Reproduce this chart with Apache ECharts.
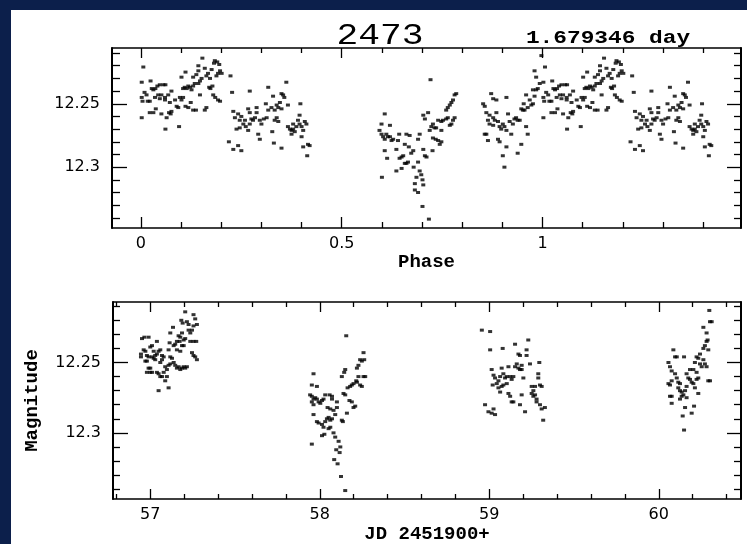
<!DOCTYPE html>
<html>
<head>
<meta charset="utf-8">
<script src="https://cdn.jsdelivr.net/npm/echarts@6/dist/echarts.min.js"></script>
<style>
html,body{margin:0;padding:0;background:#0c1f4b;width:747px;height:544px;overflow:hidden}
#main{position:absolute;left:11px;top:10px;width:736px;height:534px;background:#fff}
</style>
</head>
<body>
<div id="main"></div>
<script>
// tick values
var PHASE_LABELS = [0, 0.5, 1];
var PHASE_MINOR = [0.1,0.2,0.3,0.4,0.6,0.7,0.8,0.9,1.1,1.2,1.3,1.4];
var JD_LABELS = [57, 58, 59, 60];
var JD_MINOR = [56.8,57.2,57.4,57.6,57.8,58.2,58.4,58.6,58.8,59.2,59.4,59.6,59.8,60.2,60.4];
var MAG_LABELS = [12.25, 12.3];
var MAG_MINOR = [12.21,12.22,12.23,12.24,12.26,12.27,12.28,12.29,12.31,12.32,12.33,12.34];

// folded light curve, phase in [0,1)
var foldBright = [[0.006,12.221],[0.002,12.233],[0.024,12.232],[0.002,12.245],[0.009,12.241],[0.014,12.243],[0.004,12.248],[0.017,12.248],[0.022,12.248],[0.027,12.238],[0.031,12.239],[0.036,12.238],[0.041,12.236],[0.047,12.235],[0.056,12.235],[0.061,12.235],[0.035,12.245],[0.043,12.243],[0.051,12.243],[0.060,12.245],[0.068,12.243],[0.076,12.240],[0.047,12.246],[0.060,12.247],[0.072,12.249],[0.085,12.247],[0.002,12.261],[0.022,12.257],[0.031,12.257],[0.037,12.254],[0.051,12.258],[0.064,12.261],[0.070,12.257],[0.076,12.256],[0.061,12.270],[0.095,12.268],[0.089,12.252],[0.093,12.253],[0.097,12.245],[0.101,12.247],[0.105,12.245],[0.111,12.252],[0.118,12.253],[0.124,12.249],[0.130,12.255],[0.137,12.255],[0.105,12.238],[0.109,12.237],[0.114,12.238],[0.118,12.236],[0.122,12.237],[0.126,12.239],[0.130,12.236],[0.134,12.234],[0.101,12.229],[0.111,12.225],[0.130,12.229],[0.138,12.227],[0.143,12.224],[0.147,12.232],[0.151,12.230],[0.143,12.220],[0.153,12.214],[0.159,12.222],[0.163,12.228],[0.167,12.226],[0.172,12.230],[0.176,12.223],[0.182,12.218],[0.184,12.216],[0.190,12.217],[0.195,12.219],[0.197,12.224],[0.201,12.226],[0.192,12.226],[0.188,12.228],[0.178,12.236],[0.170,12.237],[0.173,12.238],[0.180,12.243],[0.185,12.245],[0.192,12.247],[0.197,12.248],[0.163,12.253],[0.159,12.255],[0.147,12.243],[0.143,12.234],[0.074,12.258]];
var foldShoulder = [[0.223,12.228],[0.227,12.241],[0.271,12.240],[0.317,12.237],[0.230,12.256],[0.234,12.261],[0.242,12.258],[0.246,12.263],[0.250,12.260],[0.255,12.266],[0.261,12.268],[0.267,12.271],[0.271,12.266],[0.279,12.263],[0.284,12.261],[0.288,12.257],[0.267,12.254],[0.271,12.257],[0.288,12.253],[0.296,12.263],[0.300,12.266],[0.306,12.262],[0.313,12.261],[0.311,12.250],[0.317,12.255],[0.292,12.274],[0.296,12.278],[0.219,12.280],[0.230,12.286],[0.242,12.283],[0.250,12.287],[0.246,12.269],[0.238,12.270],[0.259,12.263],[0.275,12.262],[0.329,12.244],[0.325,12.253],[0.333,12.255],[0.338,12.251],[0.342,12.253],[0.350,12.242],[0.354,12.243],[0.357,12.245],[0.362,12.233],[0.346,12.249],[0.350,12.254],[0.338,12.261],[0.333,12.263],[0.342,12.264],[0.327,12.272],[0.331,12.281],[0.350,12.285],[0.366,12.251],[0.366,12.268],[0.371,12.270],[0.375,12.271],[0.379,12.270],[0.383,12.272],[0.379,12.266],[0.387,12.268],[0.391,12.263],[0.395,12.266],[0.400,12.268],[0.404,12.271],[0.395,12.259],[0.397,12.250],[0.400,12.276],[0.408,12.264],[0.412,12.266],[0.416,12.282],[0.420,12.283],[0.414,12.291],[0.404,12.284],[0.375,12.274]];
var foldMinimum = [[0.600,12.308],[0.607,12.258],[0.599,12.266],[0.594,12.271],[0.599,12.274],[0.603,12.276],[0.607,12.278],[0.611,12.274],[0.615,12.276],[0.620,12.267],[0.607,12.287],[0.620,12.276],[0.624,12.279],[0.628,12.278],[0.613,12.293],[0.636,12.286],[0.640,12.279],[0.643,12.274],[0.644,12.293],[0.649,12.292],[0.653,12.291],[0.636,12.303],[0.649,12.301],[0.657,12.297],[0.661,12.297],[0.665,12.296],[0.657,12.282],[0.661,12.274],[0.669,12.275],[0.667,12.284],[0.673,12.289],[0.678,12.287],[0.679,12.300],[0.682,12.313],[0.686,12.308],[0.690,12.296],[0.690,12.320],[0.682,12.318],[0.694,12.303],[0.698,12.306],[0.701,12.310],[0.703,12.314],[0.701,12.331],[0.717,12.341],[0.721,12.231],[0.690,12.278],[0.694,12.274],[0.703,12.286],[0.707,12.291],[0.711,12.292],[0.707,12.262],[0.703,12.259],[0.715,12.257],[0.719,12.271],[0.723,12.268],[0.727,12.266],[0.731,12.269],[0.726,12.287],[0.727,12.277],[0.734,12.278],[0.740,12.279],[0.744,12.282],[0.748,12.280],[0.748,12.264],[0.752,12.263],[0.760,12.262],[0.764,12.261],[0.769,12.267],[0.773,12.266],[0.777,12.263],[0.781,12.261],[0.760,12.255],[0.764,12.253],[0.769,12.251],[0.773,12.249],[0.777,12.247],[0.781,12.243],[0.785,12.242],[0.748,12.271],[0.740,12.263],[0.735,12.269]];
var foldRise = [[0.852,12.250],[0.856,12.252],[0.872,12.242],[0.877,12.246],[0.885,12.247],[0.910,12.245],[0.860,12.257],[0.868,12.259],[0.877,12.261],[0.881,12.263],[0.885,12.257],[0.864,12.263],[0.868,12.266],[0.877,12.267],[0.889,12.264],[0.893,12.268],[0.897,12.270],[0.901,12.266],[0.905,12.268],[0.910,12.271],[0.914,12.258],[0.918,12.264],[0.922,12.274],[0.926,12.266],[0.930,12.262],[0.934,12.261],[0.938,12.263],[0.943,12.263],[0.947,12.254],[0.951,12.255],[0.953,12.250],[0.959,12.243],[0.963,12.253],[0.968,12.247],[0.972,12.251],[0.976,12.250],[0.980,12.244],[0.984,12.239],[0.988,12.238],[0.976,12.239],[0.980,12.224],[0.984,12.229],[0.993,12.234],[0.997,12.212],[0.860,12.274],[0.864,12.279],[0.889,12.278],[0.893,12.280],[0.910,12.284],[0.901,12.291],[0.905,12.300],[0.938,12.289],[0.947,12.282],[0.959,12.268],[0.963,12.274],[0.955,12.255],[0.856,12.274]];

// JD 2451900+ , magnitude, one array per night
var night57 = [[56.951,12.233],[56.965,12.232],[56.990,12.232],[56.945,12.244],[56.945,12.246],[56.961,12.241],[56.971,12.242],[56.980,12.245],[56.990,12.246],[56.971,12.249],[56.980,12.249],[57.000,12.239],[57.010,12.238],[57.020,12.242],[57.029,12.245],[57.039,12.235],[57.010,12.246],[57.020,12.247],[57.029,12.248],[57.039,12.244],[57.049,12.242],[57.059,12.241],[57.069,12.245],[57.069,12.248],[57.079,12.246],[57.059,12.250],[56.990,12.254],[57.000,12.254],[57.010,12.257],[56.980,12.257],[57.039,12.257],[57.049,12.258],[57.059,12.260],[57.069,12.260],[57.079,12.257],[57.098,12.255],[57.088,12.253],[57.108,12.252],[57.118,12.251],[57.118,12.246],[57.128,12.247],[57.138,12.250],[57.147,12.252],[57.157,12.254],[57.167,12.253],[57.177,12.255],[57.187,12.254],[57.197,12.253],[57.206,12.254],[57.216,12.253],[57.108,12.241],[57.114,12.236],[57.118,12.229],[57.134,12.225],[57.138,12.238],[57.147,12.237],[57.157,12.235],[57.167,12.231],[57.177,12.232],[57.187,12.229],[57.197,12.234],[57.173,12.235],[57.187,12.238],[57.197,12.238],[57.157,12.241],[57.177,12.242],[57.183,12.220],[57.191,12.222],[57.206,12.214],[57.216,12.221],[57.226,12.223],[57.226,12.227],[57.236,12.229],[57.246,12.227],[57.255,12.216],[57.265,12.219],[57.275,12.223],[57.255,12.224],[57.236,12.235],[57.255,12.235],[57.271,12.235],[57.246,12.243],[57.255,12.245],[57.265,12.246],[57.275,12.248],[57.206,12.233],[57.049,12.270],[57.108,12.268],[57.000,12.257],[57.088,12.263],[57.098,12.260]];
var night58 = [[57.953,12.308],[57.963,12.258],[57.953,12.266],[57.983,12.267],[57.943,12.273],[57.953,12.274],[57.963,12.276],[57.973,12.275],[57.983,12.276],[57.993,12.278],[57.953,12.278],[57.963,12.280],[58.003,12.279],[58.013,12.277],[58.022,12.276],[57.963,12.287],[57.983,12.292],[57.993,12.293],[58.013,12.294],[58.022,12.296],[58.032,12.292],[58.042,12.290],[58.052,12.289],[58.062,12.291],[58.072,12.290],[58.013,12.302],[58.027,12.301],[58.052,12.297],[58.062,12.296],[58.058,12.273],[58.072,12.274],[58.046,12.282],[58.062,12.283],[58.081,12.284],[58.091,12.287],[58.101,12.282],[58.101,12.278],[58.081,12.300],[58.091,12.303],[58.111,12.306],[58.121,12.310],[58.117,12.314],[58.097,12.312],[58.085,12.319],[58.105,12.322],[58.125,12.331],[58.150,12.341],[58.156,12.231],[58.130,12.260],[58.144,12.257],[58.150,12.255],[58.140,12.272],[58.150,12.273],[58.164,12.268],[58.160,12.286],[58.130,12.291],[58.136,12.292],[58.175,12.277],[58.189,12.278],[58.199,12.282],[58.209,12.281],[58.179,12.267],[58.189,12.266],[58.199,12.265],[58.215,12.263],[58.219,12.264],[58.228,12.260],[58.238,12.266],[58.248,12.267],[58.258,12.260],[58.268,12.260],[58.219,12.254],[58.228,12.252],[58.238,12.248],[58.248,12.249],[58.258,12.243],[58.262,12.248],[58.072,12.276],[58.032,12.273]];
var night59 = [[58.956,12.227],[59.005,12.228],[59.005,12.241],[58.975,12.280],[58.995,12.285],[59.014,12.286],[59.034,12.287],[59.025,12.283],[59.014,12.255],[59.025,12.259],[59.034,12.261],[59.020,12.266],[59.044,12.265],[59.054,12.263],[59.064,12.260],[59.073,12.254],[59.083,12.258],[59.093,12.261],[59.103,12.260],[59.113,12.253],[59.123,12.260],[59.132,12.262],[59.142,12.260],[59.054,12.268],[59.064,12.271],[59.073,12.267],[59.083,12.266],[59.103,12.265],[59.113,12.272],[59.123,12.274],[59.132,12.278],[59.142,12.278],[59.079,12.240],[59.152,12.237],[59.162,12.251],[59.172,12.254],[59.181,12.255],[59.172,12.244],[59.181,12.245],[59.191,12.255],[59.201,12.261],[59.191,12.273],[59.181,12.280],[59.211,12.285],[59.220,12.241],[59.230,12.234],[59.220,12.245],[59.240,12.251],[59.250,12.267],[59.260,12.270],[59.250,12.272],[59.270,12.273],[59.260,12.274],[59.279,12.276],[59.270,12.267],[59.289,12.261],[59.299,12.266],[59.309,12.267],[59.289,12.258],[59.295,12.250],[59.299,12.280],[59.309,12.283],[59.328,12.282],[59.318,12.291],[59.279,12.278],[59.191,12.252],[59.152,12.253]];
var night60 = [[60.057,12.250],[60.066,12.253],[60.076,12.256],[60.057,12.265],[60.066,12.266],[60.076,12.263],[60.066,12.274],[60.076,12.274],[60.076,12.279],[60.086,12.241],[60.096,12.246],[60.106,12.246],[60.096,12.258],[60.106,12.261],[60.115,12.264],[60.125,12.265],[60.115,12.268],[60.125,12.270],[60.135,12.271],[60.145,12.273],[60.125,12.276],[60.135,12.274],[60.155,12.270],[60.164,12.267],[60.149,12.246],[60.164,12.258],[60.174,12.261],[60.184,12.262],[60.194,12.264],[60.184,12.255],[60.204,12.265],[60.213,12.268],[60.223,12.262],[60.233,12.272],[60.164,12.275],[60.155,12.282],[60.141,12.288],[60.149,12.298],[60.194,12.286],[60.208,12.281],[60.204,12.255],[60.213,12.250],[60.223,12.246],[60.233,12.247],[60.243,12.251],[60.253,12.253],[60.263,12.248],[60.272,12.251],[60.282,12.253],[60.292,12.263],[60.302,12.263],[60.243,12.244],[60.263,12.240],[60.272,12.238],[60.282,12.235],[60.292,12.241],[60.263,12.225],[60.282,12.229],[60.288,12.234],[60.302,12.221],[60.298,12.213],[60.312,12.221],[60.223,12.257],[60.233,12.261]];

var INK = '#000';

function frameAxis(grid, pos, min, max, ticks, len, opt){
	opt = opt || {};
	return {
		type: 'value',
		gridIndex: grid,
		position: pos,
		min: min,
		max: max,
		inverse: !!opt.inverse,
		name: opt.name || '',
		nameLocation: 'middle',
		nameGap: opt.nameGap || 0,
		nameRotate: opt.nameRotate,
		nameTextStyle: {color: INK, fontFamily: 'Liberation Mono', fontWeight: 'bold', fontSize: 19},
		axisLine: {show: !!opt.line, onZero: false, lineStyle: {color: INK, width: opt.line || 1}},
		axisTick: {show: true, inside: true, length: len, customValues: ticks, lineStyle: {color: INK, width: 1.3}},
		axisLabel: opt.labels ? {
			show: true, customValues: opt.labels, color: INK,
			fontFamily: 'DejaVu Sans', fontSize: 16, margin: opt.margin || 8
		} : {show: false},
		splitLine: {show: false}
	};
}

function foldTwice(){
	// phase 0..0.5 is plotted a second time at 1..1.5
	var all = [].concat(foldBright, foldShoulder, foldMinimum, foldRise);
	var out = [];
	for (var i = 0; i < all.length; i++){
		out.push(all[i]);
		if (all[i][0] < 0.5) out.push([all[i][0] + 1, all[i][1]]);
	}
	return out;
}

var topRect = {left: 101, top: 38, width: 629, height: 180, outerBoundsMode: 'none'};
var botRect = {left: 102, top: 292, width: 628, height: 197, outerBoundsMode: 'none'};
function clone(o){ return JSON.parse(JSON.stringify(o)); }

var P_MIN = -0.072, P_MAX = 1.494, JD_MIN = 56.78, JD_MAX = 60.485;
var M1_MIN = 12.206, M1_MAX = 12.348, M2_MIN = 12.207, M2_MAX = 12.347;

var myChart = echarts.init(document.getElementById('main'), null, {renderer: 'canvas'});
myChart.setOption({
	animation: false,
	backgroundColor: 'transparent',
	grid: [clone(topRect), clone(topRect), clone(botRect), clone(botRect)],
	xAxis: [
		frameAxis(0, 'bottom', P_MIN, P_MAX, PHASE_LABELS, 11, {line: 1.5, labels: PHASE_LABELS, name: 'Phase', nameGap: 24}),
		frameAxis(0, 'top', P_MIN, P_MAX, PHASE_LABELS, 10, {line: 1.5}),
		frameAxis(1, 'bottom', P_MIN, P_MAX, PHASE_MINOR, 6),
		frameAxis(1, 'top', P_MIN, P_MAX, PHASE_MINOR, 5),
		frameAxis(2, 'bottom', JD_MIN, JD_MAX, JD_LABELS, 10, {line: 1.5, labels: JD_LABELS, name: 'JD 2451900+', nameGap: 26}),
		frameAxis(2, 'top', JD_MIN, JD_MAX, JD_LABELS, 10, {line: 1.5}),
		frameAxis(3, 'bottom', JD_MIN, JD_MAX, JD_MINOR, 5),
		frameAxis(3, 'top', JD_MIN, JD_MAX, JD_MINOR, 5)
	],
	yAxis: [
		frameAxis(0, 'left', M1_MIN, M1_MAX, MAG_LABELS, 15, {line: 2, inverse: true, labels: MAG_LABELS, margin: 12}),
		frameAxis(0, 'right', M1_MIN, M1_MAX, MAG_LABELS, 14, {line: 2, inverse: true}),
		frameAxis(1, 'left', M1_MIN, M1_MAX, MAG_MINOR, 8, {inverse: true}),
		frameAxis(1, 'right', M1_MIN, M1_MAX, MAG_MINOR, 7, {inverse: true}),
		frameAxis(2, 'left', M2_MIN, M2_MAX, MAG_LABELS, 15, {line: 2, inverse: true, labels: MAG_LABELS, margin: 12, name: 'Magnitude', nameGap: 71, nameRotate: 90}),
		frameAxis(2, 'right', M2_MIN, M2_MAX, MAG_LABELS, 14, {line: 2, inverse: true}),
		frameAxis(3, 'left', M2_MIN, M2_MAX, MAG_MINOR, 7, {inverse: true}),
		frameAxis(3, 'right', M2_MIN, M2_MAX, MAG_MINOR, 7, {inverse: true})
	],
	graphic: [
		{type: 'text', x: 369, y: 26, scaleX: 1.25, style: {text: '2473', fill: INK, fontFamily: 'Liberation Mono', fontSize: 29, textAlign: 'center', textVerticalAlign: 'middle'}},
		{type: 'text', x: 597, y: 28, scaleX: 1.2, style: {text: '1.679346 day', fill: INK, fontFamily: 'Liberation Mono', fontWeight: 'bold', fontSize: 19, textAlign: 'center', textVerticalAlign: 'middle'}}
	],
	series: [
		{
			type: 'scatter', xAxisIndex: 0, yAxisIndex: 0,
			symbol: 'rect', symbolSize: [4, 3],
			itemStyle: {color: INK},
			data: foldTwice()
		},
		{
			type: 'scatter', xAxisIndex: 4, yAxisIndex: 4,
			symbol: 'rect', symbolSize: [4, 3],
			itemStyle: {color: INK},
			data: [].concat(night57, night58, night59, night60)
		}
	]
});
</script>
</body>
</html>
